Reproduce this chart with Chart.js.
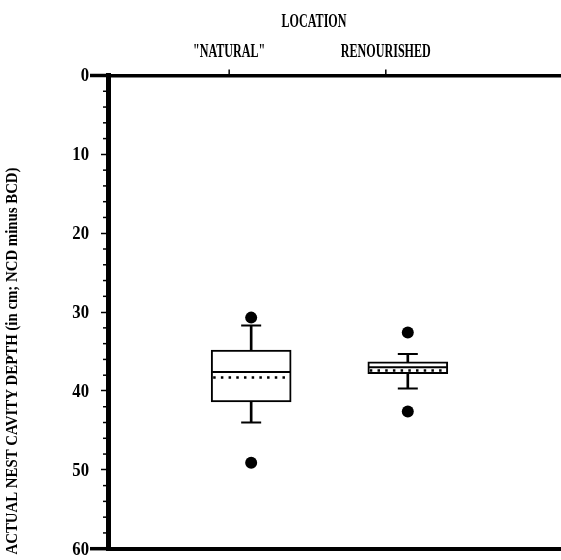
<!DOCTYPE html>
<html>
<head>
<meta charset="utf-8">
<script src="https://cdn.jsdelivr.net/npm/chart.js@4.4.0/dist/chart.umd.min.js"></script>
<style>
  html, body { margin: 0; padding: 0; background: #fff; }
  canvas { display: block; }
</style>
</head>
<body>
<canvas id="chart" width="561" height="560"></canvas>
<script>
// values (depth in cm, 0 at top)
const categories = ['"NATURAL"', 'RENOURISHED'];
const boxTop = [34.8, 36.3];
const boxBottom = [41.4, 37.8];
const medians = [37.6, 37.0];
const means = [38.3, 37.4];
const whiskerTop = [31.7, 35.3];
const whiskerBottom = [44.0, 39.7];
const outliers = [[30.7, 49.1], [32.6, 42.6]];
const yTicks = [0, 10, 20, 30, 40, 50, 60];
const xTitle = 'LOCATION';
const yTitle = 'ACTUAL NEST CAVITY DEPTH (in cm; NCD minus BCD)';

const SERIF = '"Liberation Serif", "DejaVu Serif", serif';
const pos = categories.map((c, i) => i + 1);

// condensed text, the scan uses a very narrow face
function squeezed(ctx, text, x, y, sx, align) {
  ctx.save();
  ctx.translate(x, y);
  ctx.scale(sx, 1);
  ctx.textAlign = align;
  ctx.fillText(text, 0, 0);
  ctx.restore();
}

const meanLines = {
  id: 'meanLines',
  afterDatasetsDraw(chart) {
    const ctx = chart.ctx;
    const y = chart.scales.y;
    const boxes = chart.getDatasetMeta(0).data;
    ctx.save();
    ctx.strokeStyle = '#000';
    ctx.lineWidth = 2.5;
    ctx.setLineDash([2.5, 5.2]);
    boxes.forEach((bar, i) => {
      const py = y.getPixelForValue(means[i]);
      ctx.beginPath();
      ctx.moveTo(bar.x - bar.width / 2 + 2, py);
      ctx.lineTo(bar.x + bar.width / 2 - 2, py);
      ctx.stroke();
    });
    ctx.restore();
  }
};

const typeset = {
  id: 'typeset',
  afterDraw(chart) {
    const ctx = chart.ctx;
    const x = chart.scales.x, y = chart.scales.y;
    const area = chart.chartArea;
    ctx.save();
    ctx.fillStyle = '#000';
    ctx.strokeStyle = '#000';

    // minor ticks every 2 cm
    ctx.lineWidth = 1.5;
    for (let v = 2; v < 60; v += 2) {
      if (v % 10 === 0) continue;
      const py = y.getPixelForValue(v);
      ctx.beginPath();
      ctx.moveTo(area.left - 5, py);
      ctx.lineTo(area.left - 2, py);
      ctx.stroke();
    }
    // 0 and 60 ticks run out as part of the frame
    ctx.lineWidth = 3.5;
    [0, 60].forEach(v => {
      const py = y.getPixelForValue(v);
      ctx.beginPath();
      ctx.moveTo(90, py);
      ctx.lineTo(area.left, py);
      ctx.stroke();
    });

    // y tick labels
    ctx.font = 'bold 19px ' + SERIF;
    ctx.textBaseline = 'middle';
    y.ticks.forEach(t => {
      squeezed(ctx, String(t.value), 89, y.getPixelForValue(t.value) + 1, 0.88, 'right');
    });

    // category labels + small tick marks on the top axis
    ctx.textBaseline = 'alphabetic';
    ctx.font = 'bold 19.5px ' + SERIF;
    ctx.lineWidth = 1.5;
    x.ticks.forEach((t, i) => {
      const px = x.getPixelForValue(t.value) - 22;
      squeezed(ctx, categories[i], px, 57, 0.62, 'center');
      ctx.beginPath();
      ctx.moveTo(px, area.top - 1);
      ctx.lineTo(px, area.top - 6);
      ctx.stroke();
    });
    squeezed(ctx, xTitle, 314, 27, 0.62, 'center');

    // rotated y title
    ctx.font = 'bold 16px ' + SERIF;
    const sx = 387 / ctx.measureText(yTitle).width;
    ctx.save();
    ctx.translate(13, 361);
    ctx.rotate(-Math.PI / 2);
    ctx.textBaseline = 'middle';
    squeezed(ctx, yTitle, 0, 0, sx, 'center');
    ctx.restore();

    ctx.restore();
  }
};

new Chart(document.getElementById('chart'), {
  type: 'bar',
  data: {
    datasets: [
      {
        label: 'box',
        data: pos.map((p, i) => ({ x: p, y: [boxTop[i], boxBottom[i]] })),
        backgroundColor: '#fff',
        borderColor: '#000',
        borderWidth: 2,
        borderSkipped: false,
        barThickness: 80,
        grouped: false,
        order: 3
      },
      {
        label: 'upper whisker',
        data: pos.map((p, i) => ({ x: p, y: [whiskerTop[i], boxTop[i]] })),
        backgroundColor: '#000',
        borderWidth: 0,
        barThickness: 2,
        grouped: false,
        order: 4
      },
      {
        label: 'lower whisker',
        data: pos.map((p, i) => ({ x: p, y: [boxBottom[i], whiskerBottom[i]] })),
        backgroundColor: '#000',
        borderWidth: 0,
        barThickness: 2,
        grouped: false,
        order: 4
      },
      {
        type: 'scatter',
        label: 'caps',
        data: pos.flatMap((p, i) => [{ x: p, y: whiskerTop[i] }, { x: p, y: whiskerBottom[i] }]),
        pointStyle: 'line',
        pointRadius: 10,
        borderColor: '#000',
        borderWidth: 2,
        order: 1
      },
      {
        type: 'scatter',
        label: 'median',
        data: pos.map((p, i) => ({ x: p, y: medians[i] })),
        pointStyle: 'line',
        pointRadius: 39,
        borderColor: '#000',
        borderWidth: 2,
        order: 1
      },
      {
        type: 'scatter',
        label: 'outliers',
        data: pos.flatMap((p, i) => outliers[i].map(v => ({ x: p, y: v }))),
        pointStyle: 'circle',
        pointRadius: 6,
        backgroundColor: '#000',
        borderColor: '#000',
        borderWidth: 0,
        order: 0
      }
    ]
  },
  options: {
    responsive: false,
    animation: false,
    devicePixelRatio: 1,
    layout: { padding: 0, autoPadding: false },
    plugins: { legend: { display: false }, tooltip: { enabled: false } },
    scales: {
      x: {
        type: 'linear',
        position: 'top',
        offset: false,
        min: 0.086,
        max: 2.978,
        afterBuildTicks: s => { s.ticks = pos.map(v => ({ value: v })); },
        afterFit: s => { s.height = 75.5; },
        ticks: { display: false },
        grid: { display: false, offset: false },
        border: { display: true, color: '#000', width: 3.5 }
      },
      xb: {
        type: 'linear',
        position: 'bottom',
        offset: false,
        min: 0.086,
        max: 2.978,
        afterFit: s => { s.height = 11.3; },
        ticks: { display: false },
        grid: { display: false },
        border: { display: true, color: '#000', width: 4 }
      },
      y: {
        type: 'linear',
        reverse: true,
        min: 0,
        max: 60,
        afterBuildTicks: s => { s.ticks = yTicks.map(v => ({ value: v })); },
        afterFit: s => { s.width = 108; },
        ticks: { display: false },
        grid: {
          display: true,
          drawOnChartArea: false,
          drawTicks: true,
          tickLength: 7,
          color: '#000',
          tickWidth: 1.5
        },
        border: { display: true, color: '#000', width: 5 }
      }
    }
  },
  plugins: [meanLines, typeset]
});
</script>
</body>
</html>
